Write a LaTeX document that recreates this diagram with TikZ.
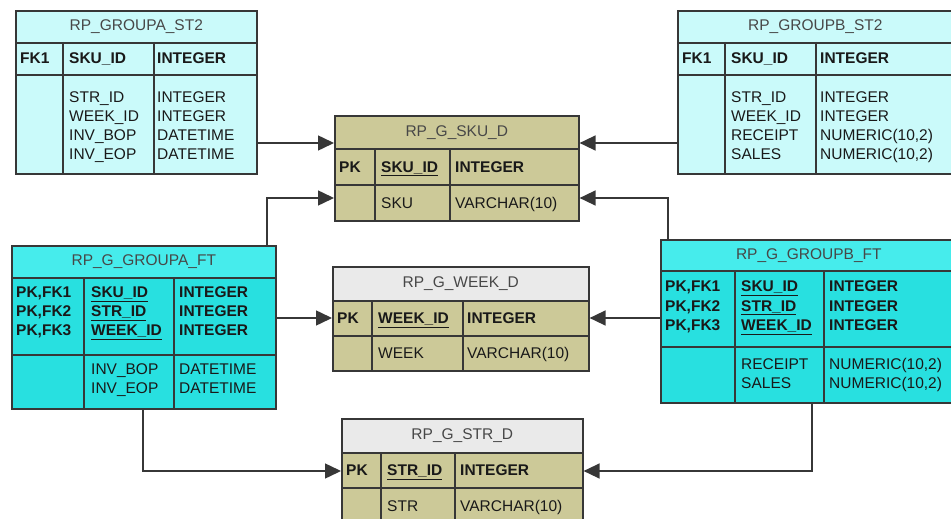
\documentclass[tikz,border=0pt]{standalone}
\usepackage{fontspec}
\setmainfont{Liberation Sans}
\usepackage{tikz}
\usetikzlibrary{arrows.meta,positioning}
\usepackage{xcolor}
\definecolor{stfill}{RGB}{202,250,250}
\definecolor{ftfill}{RGB}{40,224,224}
\definecolor{ftttl}{RGB}{70,236,236}
\definecolor{dimfill}{RGB}{204,201,152}
\definecolor{dimttl}{RGB}{234,234,234}
\definecolor{edgegray}{RGB}{55,55,55}
\definecolor{ink}{RGB}{25,25,25}

\tikzset{
    tbl/.style={draw=edgegray, line width=1.6pt, rectangle, anchor=north west, inner sep=0pt},
    ttl/.style={tbl, text=ink!80, font=\fontsize{15.5}{19}\selectfont},
    rule/.style={draw=edgegray, line width=1.6pt},
    cell/.style={anchor=base west, inner sep=0pt, text=ink, font=\fontsize{15.5}{19}\selectfont},
    keycell/.style={cell, font=\fontsize{15.5}{19}\selectfont\bfseries},
    link/.style={draw=edgegray, line width=1.5pt, -{Triangle[length=16pt,width=15pt]}}
}

\begin{document}
\begin{tikzpicture}[x=1pt,y=-1pt]
    \useasboundingbox (0,0) rectangle (951,519);
    \clip (0,0) rectangle (951,519);

    % RP_GROUPA_ST2
    \node[tbl, fill=stfill, minimum width=241, minimum height=163] (asttwo) at (15,10) {};
    \node[ttl, fill=stfill, minimum width=241, minimum height=32] (asttwo-t) at (asttwo.north west) {RP\_GROUPA\_ST2};
    \draw[rule] (15,75) -- (256,75);
    \draw[rule] (63,42) -- (63,173);
    \draw[rule] (154,42) -- (154,173);
    \node[keycell] (asttwo-k1) at (20,63.5) {FK1};
    \node[keycell] (asttwo-k2) at (69,63.5) {SKU\_ID};
    \node[keycell] (asttwo-k3) at (157,63.5) {INTEGER};
    \foreach \f/\t [count=\i] in {STR\_ID/INTEGER, WEEK\_ID/INTEGER, INV\_BOP/DATETIME, INV\_EOP/DATETIME} {
        \node[cell] (asttwo-n\i) at (69,83.5+19*\i) {\f};
        \node[cell] (asttwo-d\i) at (157,83.5+19*\i) {\t};
    }

    % RP_GROUPB_ST2
    \node[tbl, fill=stfill, minimum width=275, minimum height=163] (bsttwo) at (677,10) {};
    \node[ttl, fill=stfill, minimum width=275, minimum height=32] (bsttwo-t) at (bsttwo.north west) {RP\_GROUPB\_ST2};
    \draw[rule] (677,75) -- (952,75);
    \draw[rule] (725,42) -- (725,173);
    \draw[rule] (816,42) -- (816,173);
    \node[keycell] (bsttwo-k1) at (682,63.5) {FK1};
    \node[keycell] (bsttwo-k2) at (731,63.5) {SKU\_ID};
    \node[keycell] (bsttwo-k3) at (820,63.5) {INTEGER};
    \foreach \f/\t [count=\i] in {STR\_ID/INTEGER, WEEK\_ID/INTEGER, RECEIPT/{NUMERIC(10,2)}, SALES/{NUMERIC(10,2)}} {
        \node[cell] (bsttwo-n\i) at (731,83.5+19*\i) {\f};
        \node[cell] (bsttwo-d\i) at (820,83.5+19*\i) {\t};
    }

    % RP_G_SKU_D
    \node[tbl, fill=dimfill, minimum width=244, minimum height=105] (skud) at (334,115) {};
    \node[ttl, fill=dimfill, minimum width=244, minimum height=33] (skud-t) at (skud.north west) {RP\_G\_SKU\_D};
    \draw[rule] (334,185) -- (578,185);
    \draw[rule] (375,148) -- (375,220);
    \draw[rule] (450,148) -- (450,220);
    \node[keycell] (skud-k1) at (339,172) {PK};
    \node[keycell] (skud-k2) at (381,172) {\underline{SKU\_ID}};
    \node[keycell] (skud-k3) at (455,172) {INTEGER};
    \node[cell] (skud-n1) at (381,208) {SKU};
    \node[cell] (skud-d1) at (455,208) {VARCHAR(10)};

    % RP_G_WEEK_D
    \node[tbl, fill=dimfill, minimum width=256, minimum height=104] (weekd) at (332,266) {};
    \node[ttl, fill=dimttl, minimum width=256, minimum height=34] (weekd-t) at (weekd.north west) {RP\_G\_WEEK\_D};
    \draw[rule] (332,336) -- (588,336);
    \draw[rule] (372,300) -- (372,370);
    \draw[rule] (463,300) -- (463,370);
    \node[keycell] (weekd-k1) at (337,323.5) {PK};
    \node[keycell] (weekd-k2) at (378,323.5) {\underline{WEEK\_ID}};
    \node[keycell] (weekd-k3) at (467,323.5) {INTEGER};
    \node[cell] (weekd-n1) at (378,358.5) {WEEK};
    \node[cell] (weekd-d1) at (467,358.5) {VARCHAR(10)};

    % RP_G_STR_D
    \node[tbl, fill=dimfill, minimum width=241, minimum height=122] (strd) at (341,418) {};
    \node[ttl, fill=dimttl, minimum width=241, minimum height=34] (strd-t) at (strd.north west) {RP\_G\_STR\_D};
    \draw[rule] (341,488) -- (582,488);
    \draw[rule] (381,452) -- (381,540);
    \draw[rule] (455,452) -- (455,540);
    \node[keycell] (strd-k1) at (346,475.5) {PK};
    \node[keycell] (strd-k2) at (387,475.5) {\underline{STR\_ID}};
    \node[keycell] (strd-k3) at (460,475.5) {INTEGER};
    \node[cell] (strd-n1) at (387,511.5) {STR};
    \node[cell] (strd-d1) at (460,511.5) {VARCHAR(10)};

    % RP_G_GROUPA_FT
    \node[tbl, fill=ftfill, minimum width=264, minimum height=163] (aft) at (11,245) {};
    \node[ttl, fill=ftttl, minimum width=264, minimum height=32] (aft-t) at (aft.north west) {RP\_G\_GROUPA\_FT};
    \draw[rule] (11,355) -- (275,355);
    \draw[rule] (84,277) -- (84,408);
    \draw[rule] (174,277) -- (174,408);
    \foreach \c/\f [count=\i] in {{PK,FK1}/SKU\_ID, {PK,FK2}/STR\_ID, {PK,FK3}/WEEK\_ID} {
        \node[keycell] (aft-c\i) at (16,278.5+19*\i) {\c};
        \node[keycell] (aft-k\i) at (91,278.5+19*\i) {\underline{\f}};
        \node[keycell] (aft-t\i) at (179,278.5+19*\i) {INTEGER};
    }
    \foreach \f [count=\i] in {INV\_BOP, INV\_EOP} {
        \node[cell] (aft-n\i) at (91,355.5+19*\i) {\f};
        \node[cell] (aft-d\i) at (179,355.5+19*\i) {DATETIME};
    }

    % RP_G_GROUPB_FT
    \node[tbl, fill=ftfill, minimum width=296, minimum height=163] (bft) at (660,239) {};
    \node[ttl, fill=ftttl, minimum width=296, minimum height=31] (bft-t) at (bft.north west) {RP\_G\_GROUPB\_FT};
    \draw[rule] (660,347) -- (956,347);
    \draw[rule] (735,270) -- (735,402);
    \draw[rule] (824,270) -- (824,402);
    \foreach \c/\f [count=\i] in {{PK,FK1}/SKU\_ID, {PK,FK2}/STR\_ID, {PK,FK3}/WEEK\_ID} {
        \node[keycell] (bft-c\i) at (665,272+19.5*\i) {\c};
        \node[keycell] (bft-k\i) at (741,272+19.5*\i) {\underline{\f}};
        \node[keycell] (bft-t\i) at (829,272+19.5*\i) {INTEGER};
    }
    \foreach \f [count=\i] in {RECEIPT, SALES} {
        \node[cell] (bft-n\i) at (741,350.5+19*\i) {\f};
        \node[cell] (bft-d\i) at (829,350.5+19*\i) {NUMERIC(10,2)};
    }

    % relationships
    \draw[link] (asttwo.east |- 0,143) -- (skud.west |- 0,143);
    \draw[link] (bsttwo.west |- 0,143) -- (skud.east |- 0,143);
    \draw[link] (aft.north -| 267,0) |- (skud.west |- 0,198);
    \draw[link] (bft.north -| 668,0) |- (skud.east |- 0,198);
    \draw[link] (aft.east |- 0,318) -- (weekd.west |- 0,318);
    \draw[link] (bft.west |- 0,318) -- (weekd.east |- 0,318);
    \draw[link] (aft.south -| 143,0) |- (strd.west |- 0,471);
    \draw[link] (bft.south -| 812,0) |- (strd.east |- 0,471);
\end{tikzpicture}
\end{document}
